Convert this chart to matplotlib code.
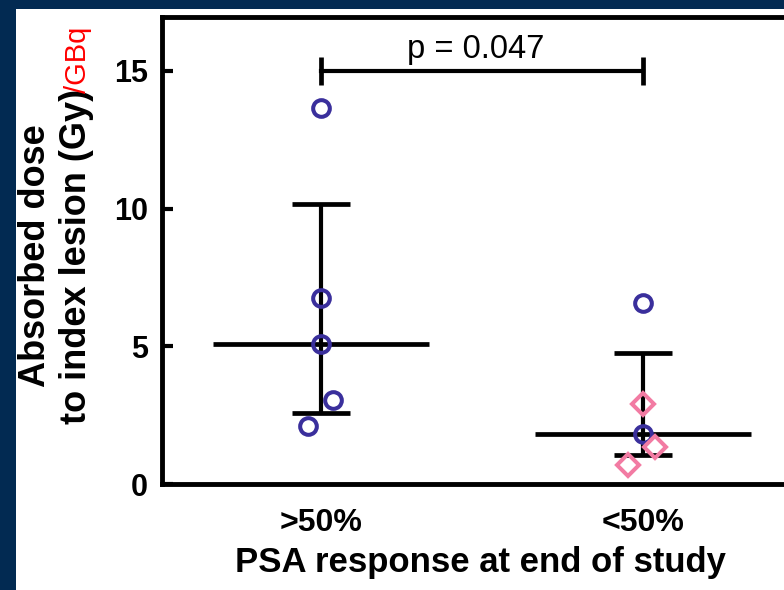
import matplotlib
matplotlib.use('Agg')
import matplotlib.pyplot as plt
from matplotlib.patches import Rectangle

# data
groups = ['>50%', '<50%']
resp_circles = [13.66, 6.76, 5.09, 3.05, 2.11]
resp_jitter = [0.0, 0.0, 0.0, 0.038, -0.040]
nonresp_circles = [6.57, 1.82]
nonresp_circle_jitter = [0.0, 0.0]
nonresp_diamonds = [2.91, 1.34, 0.69]
nonresp_diamond_jitter = [0.0, 0.037, -0.047]
medians = [5.09, 1.82]
upper = [10.17, 4.76]
lower = [2.58, 1.05]
p_text = 'p = 0.047'

plt.rcParams['font.family'] = ['Liberation Sans', 'DejaVu Sans']

navy = '#022a52'
circ_col = '#3a2f9c'
diam_col = '#f27ba3'

fig = plt.figure(figsize=(7.84, 5.9), dpi=100, facecolor=navy)
fig.patches.append(Rectangle((16/784, 0), 1, 1 - 9/590, transform=fig.transFigure,
                             facecolor='white', edgecolor='none', zorder=-5))

ax = fig.add_axes([162/784, 1 - 484/590, 1 - 162/784, 467/590])
ax.set_zorder(2)
ax.set_facecolor('white')

xpos = [1, 2]
# median lines
ax.hlines(medians, [x - 0.335 for x in xpos], [x + 0.335 for x in xpos],
          color='black', lw=3.4, zorder=3)
# error bars
ax.vlines(xpos, lower, upper, color='black', lw=3.0, zorder=3)
ax.hlines(upper, [x - 0.09 for x in xpos], [x + 0.09 for x in xpos], color='black', lw=3.4, zorder=3)
ax.hlines(lower, [x - 0.09 for x in xpos], [x + 0.09 for x in xpos], color='black', lw=3.4, zorder=3)

# points
ax.plot([1 + j for j in resp_jitter], resp_circles, 'o', ms=12, mfc='none',
        mec=circ_col, mew=2.9, zorder=4)
ax.plot([2 + j for j in nonresp_circle_jitter], nonresp_circles, 'o', ms=12, mfc='none',
        mec=circ_col, mew=2.9, zorder=4)
ax.plot([2 + j for j in nonresp_diamond_jitter], nonresp_diamonds, 'D', ms=11, mfc='none',
        mec=diam_col, mew=2.9, zorder=4)

# significance bar
ax.plot([1, 2], [15, 15], color='black', lw=3.0)
ax.vlines(xpos, 14.5, 15.5, color='black', lw=3.4)
ax.text(1.48, 15.47, p_text, ha='center', va='baseline', fontsize=23.5)

ax.set_xlim(0.506, 2.438)
ax.set_ylim(0, 16.96)
ax.set_xticks(xpos)
ax.set_xticklabels(groups, fontsize=23, fontweight='bold')
ax.set_yticks([0, 5, 10, 15])
ax.set_yticklabels(['0', '5', '10', '15'], fontsize=22, fontweight='bold')
ax.tick_params(axis='x', length=0, pad=17)
ax.tick_params(axis='y', direction='in', length=8, width=3, pad=10)

for s in ['left', 'bottom', 'top']:
    ax.spines[s].set_linewidth(3.5)
ax.spines['right'].set_visible(False)

ax.set_xlabel('PSA response at end of study', fontsize=25, fontweight='bold')
ax.xaxis.set_label_coords((480.5 - 162) / 622, -62 / 467)

fig.text(56/784, 1 - 256/590, 'Absorbed dose\nto index lesion (Gy)', rotation=90,
         ha='center', va='center', multialignment='center', fontsize=26,
         fontweight='bold', linespacing=1.22)
fig.text(78/784, 1 - 60/590, '/GBq', rotation=90, ha='center', va='center',
         color='red', fontsize=21)

plt.savefig('out.png', dpi=100, facecolor=navy)
plt.close()
